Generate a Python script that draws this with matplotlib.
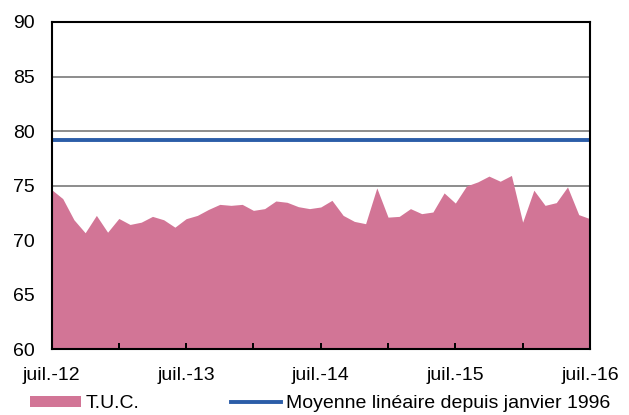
import numpy as np
import matplotlib
matplotlib.use("Agg")
import matplotlib.pyplot as plt

plt.rcParams['font.family'] = ['Liberation Sans', 'DejaVu Sans']

# T.U.C. mensuel, juil. 2012 -> juil. 2016
tuc = [74.65, 73.82, 71.88, 70.69, 72.28, 70.74, 72.0, 71.45, 71.66, 72.19,
       71.88, 71.2, 71.98, 72.28, 72.83, 73.29, 73.2, 73.29, 72.74, 72.9,
       73.6, 73.48, 73.08, 72.9, 73.05, 73.66, 72.28, 71.73, 71.52, 74.8,
       72.12, 72.19, 72.9, 72.44, 72.59, 74.34, 73.41, 74.98, 75.35, 75.88,
       75.41, 75.94, 71.66, 74.59, 73.2, 73.45, 74.89, 72.35, 71.98]
moyenne = 79.2  # moyenne depuis janvier 1996
tick_labels = ["juil.-12", "juil.-13", "juil.-14", "juil.-15", "juil.-16"]

x = np.arange(len(tuc))

fig = plt.figure(figsize=(6.29, 4.15), dpi=100)
ax = fig.add_axes([0.0819, 0.158, 0.856, 0.789])

for v in [65, 70, 75, 80, 85]:
    ax.axhline(v, color="#8c8c8c", lw=1.4, zorder=0)

ax.fill_between(x, 60, tuc, color="#D27596", lw=0, label="T.U.C.", zorder=1)
ax.plot([x[0], x[-1]], [moyenne, moyenne], color="#2B5DA8", lw=2.8,
        label="Moyenne linéaire depuis janvier 1996", zorder=2)

ax.set_xlim(x[0], x[-1])
ax.set_ylim(60, 90)
ax.set_yticks([60, 65, 70, 75, 80, 85, 90])
ax.set_xticks(x[::12])
ax.set_xticklabels(tick_labels)
ax.set_xticks(x[6::12], minor=True)
ax.tick_params(axis="y", length=0, pad=12, labelsize=14)
ax.tick_params(axis="x", which="both", direction="in", length=4.5, width=1.4,
               pad=13, labelsize=14)

for s in ax.spines.values():
    s.set_linewidth(1.5)
    s.set_color("black")
    s.set_zorder(3)

fig.legend(loc="center left", bbox_to_anchor=(0.0477, 0.027), ncol=2,
           frameon=False, fontsize=14, handlelength=2.6, handleheight=0.55,
           handletextpad=0.25, columnspacing=4.7, borderpad=0, borderaxespad=0)

fig.savefig("out.png", dpi=100)
